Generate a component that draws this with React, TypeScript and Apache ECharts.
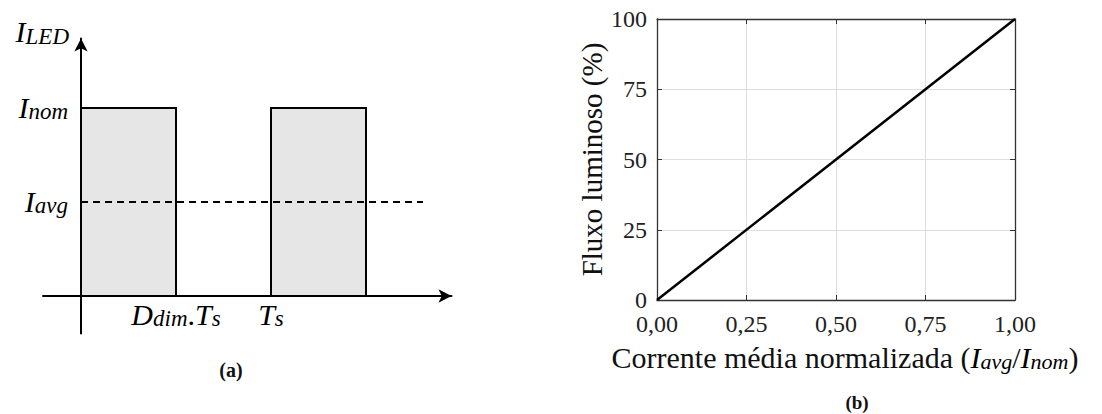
import React, { useEffect, useRef } from 'react';
import * as echarts from 'echarts';

// ---------- panel (b): luminous flux vs normalized average current ----------
const fluxCurrent = [0, 1]; // I_avg / I_nom
const fluxPercent = [0, 100]; // luminous flux (%)
const currentTicks = [0, 0.25, 0.5, 0.75, 1];
const fluxTicks = [0, 25, 50, 75, 100];

// ---------- panel (a): PWM LED current (time in Ts, current in I_nom) ----------
const pulseStarts = [0, 1];
const pulseEnds = [0.5, 1.5];
const pulseLevels = [1, 1];
const avgLevel = 0.5;
const avgLineSpan = [0, 1.8];
const timeTickValues = [0.5, 1];
const timeTickLabels = ['{it|D}{sub|dim}{dot|.}{it|T}{sub|s}', '{it|T}{sub|s}'];
const currentTickValues = [0.5, 1];
const currentTickLabels = ['{it|I}{sub|avg}', '{it|I}{sub|nom}'];

const SERIF = 'Liberation Serif';

const mathRich = (main: number, sub: number, pad: number) => ({
  it: { fontFamily: SERIF, fontStyle: 'italic', fontSize: main, color: '#000' },
  dot: { fontFamily: SERIF, fontSize: main, color: '#000' },
  up: { fontFamily: SERIF, fontSize: main, color: '#111' },
  sub: { fontFamily: SERIF, fontStyle: 'italic', fontSize: sub, color: '#000', padding: [pad, 0, 0, 0] },
});

const tickRich = { t: { fontFamily: SERIF, fontSize: 24, color: '#222' } };

export default function App() {
  const ref = useRef<HTMLDivElement>(null);
  useEffect(() => {
    if (!ref.current) return;
    const chart = echarts.init(ref.current, undefined, { renderer: 'svg' });
    const pulses = pulseStarts.map((s, i) => [s, pulseEnds[i], pulseLevels[i]]);
    const option: any = {
      animation: false,
      backgroundColor: '#fff',
      textStyle: { fontFamily: SERIF },
      grid: [
        { left: 657, top: 19, width: 358, height: 281, outerBoundsMode: 'none', containLabel: false },
        { left: 43, top: 38.4, width: 408.5, height: 295.2, outerBoundsMode: 'none', containLabel: false },
      ],
      xAxis: [
        {
          gridIndex: 0, type: 'value', position: 'bottom',
          min: currentTicks[0], max: currentTicks[currentTicks.length - 1],
          interval: currentTicks[1] - currentTicks[0],
          axisLine: { show: true, onZero: false, lineStyle: { color: '#333', width: 1.3 } },
          axisTick: { show: true, inside: true, length: 5, lineStyle: { color: '#333' } },
          splitLine: { show: true, lineStyle: { color: '#dedede', width: 1 } },
          axisLabel: {
            margin: 12, fontFamily: SERIF, fontSize: 24, color: '#222', rich: tickRich,
            formatter: (v: number) => `{t|${v.toFixed(2).replace('.', ',')}}`,
          },
          name: '{up|Corrente média normalizada (}{it|I}{sub|avg}{up|/}{it|I}{sub|nom}{up|)}',
          nameLocation: 'middle', nameGap: 42,
          nameTextStyle: {
            fontFamily: SERIF, fontSize: 30, color: '#111', padding: [0, 0, 0, 18],
            rich: { ...mathRich(30, 22, 8) },
          },
        },
        {
          gridIndex: 0, type: 'value', position: 'top',
          min: currentTicks[0], max: currentTicks[currentTicks.length - 1],
          interval: currentTicks[1] - currentTicks[0],
          axisLine: { show: true, onZero: false, lineStyle: { color: '#333', width: 1.3 } },
          axisTick: { show: true, inside: true, length: 5, lineStyle: { color: '#333' } },
          splitLine: { show: false }, axisLabel: { show: false },
        },
        {
          gridIndex: 1, type: 'value', min: -0.2, max: 1.95,
          axisLine: {
            show: true, onZero: true, symbol: ['none', 'arrow'], symbolSize: [10, 13],
            lineStyle: { color: '#000', width: 2 },
          },
          axisTick: { show: false }, splitLine: { show: false },
          axisLabel: {
            customValues: timeTickValues, margin: -35,
            formatter: (v: number) => timeTickLabels[timeTickValues.indexOf(v)] ?? '',
            rich: mathRich(30, 23, 8),
          },
        },
      ],
      yAxis: [
        {
          gridIndex: 0, type: 'value', position: 'left',
          min: fluxTicks[0], max: fluxTicks[fluxTicks.length - 1],
          interval: fluxTicks[1] - fluxTicks[0],
          axisLine: { show: true, onZero: false, lineStyle: { color: '#333', width: 1.3 } },
          axisTick: { show: true, inside: true, length: 5, lineStyle: { color: '#333' } },
          splitLine: { show: true, lineStyle: { color: '#dedede', width: 1 } },
          axisLabel: {
            margin: 10, fontFamily: SERIF, fontSize: 24, color: '#222', rich: tickRich,
            formatter: (v: number) => `{t|${v}}`,
          },
          name: '{n|Fluxo luminoso (%)}', nameLocation: 'middle', nameGap: 51,
          nameTextStyle: {
            fontFamily: SERIF, fontSize: 29, color: '#111',
            rich: { n: { fontFamily: SERIF, fontSize: 29, color: '#111' } },
          },
        },
        {
          gridIndex: 0, type: 'value', position: 'right',
          min: fluxTicks[0], max: fluxTicks[fluxTicks.length - 1],
          interval: fluxTicks[1] - fluxTicks[0],
          axisLine: { show: true, onZero: false, lineStyle: { color: '#333', width: 1.3 } },
          axisTick: { show: true, inside: true, length: 5, lineStyle: { color: '#333' } },
          splitLine: { show: false }, axisLabel: { show: false },
        },
        {
          gridIndex: 1, type: 'value', min: -0.2, max: 1.37,
          axisLine: {
            show: true, onZero: true, symbol: ['none', 'arrow'], symbolSize: [10, 13],
            lineStyle: { color: '#000', width: 2 },
          },
          axisTick: { show: false }, splitLine: { show: false },
          axisLabel: {
            customValues: currentTickValues, margin: -25,
            formatter: (v: number) => currentTickLabels[currentTickValues.indexOf(v)] ?? '',
            rich: mathRich(30, 23, 8),
          },
          name: '{it|I}{sub|LED}', nameLocation: 'end', nameGap: 7,
          nameTextStyle: {
            align: 'right', verticalAlign: 'middle', padding: [0, 12, 0, 0],
            rich: mathRich(30, 23, 10),
          },
        },
      ],
      series: [
        {
          type: 'line', xAxisIndex: 0, yAxisIndex: 0,
          data: fluxCurrent.map((x, i) => [x, fluxPercent[i]]),
          showSymbol: false, lineStyle: { color: '#000', width: 2.5 }, z: 5,
        },
        {
          type: 'custom', xAxisIndex: 2, yAxisIndex: 2, data: pulses,
          renderItem: (_p: any, api: any) => {
            const a = api.coord([api.value(0), api.value(2)]);
            const b = api.coord([api.value(1), 0]);
            return {
              type: 'rect',
              shape: { x: a[0], y: a[1], width: b[0] - a[0], height: b[1] - a[1] },
              style: { fill: '#e6e6e6', stroke: '#000', lineWidth: 2 },
            };
          },
          z: 3,
        },
        {
          type: 'line', xAxisIndex: 2, yAxisIndex: 2,
          data: avgLineSpan.map((x) => [x, avgLevel]),
          showSymbol: false, lineStyle: { color: '#000', width: 2, type: [7, 5] }, z: 4,
        },
      ],
      graphic: [
        {
          type: 'text', x: 231, y: 370,
          style: { text: '(a)', font: `bold 20px '${SERIF}'`, fill: '#111', align: 'center', verticalAlign: 'middle' },
        },
        {
          type: 'text', x: 857, y: 402,
          style: { text: '(b)', font: `bold 19px '${SERIF}'`, fill: '#111', align: 'center', verticalAlign: 'middle' },
        },
      ],
    };
    chart.setOption(option);
    return () => chart.dispose();
  }, []);
  return <div ref={ref} style={{ position: 'fixed', left: 0, top: 0, width: 1102, height: 414 }} />;
}
